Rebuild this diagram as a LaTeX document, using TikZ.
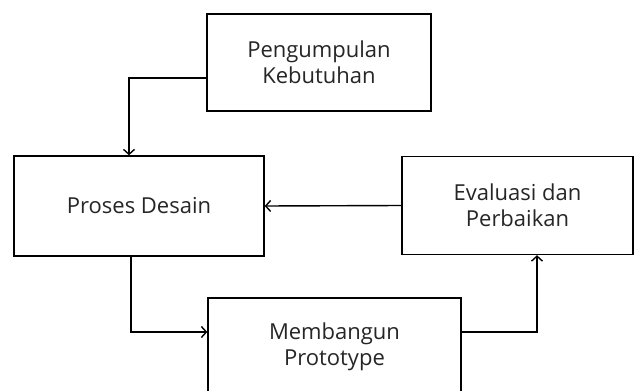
\documentclass[tikz,border=0pt]{standalone}
\usepackage{fontspec}
\setmainfont{Open Sans}
\usetikzlibrary{arrows.meta,calc}
\begin{document}
\begin{tikzpicture}[x=1pt,y=-1pt,
  box/.style={draw=black,line width=1.4pt,minimum width=#1,inner sep=0pt,align=center,font=\fontsize{22}{26}\selectfont,text=black!85},
  conn/.style={line width=1.4pt,-{Straight Barb[length=5pt,width=11pt,line width=1.4pt]}}]
\useasboundingbox (0,0) rectangle (641,391);
\clip (0,0) rectangle (641,391);
\fill[white] (0,0) rectangle (641,391);
\node[box=224pt,minimum height=97pt] (P) at (319,62.5) {Pengumpulan\\Kebutuhan};
\node[box=250pt,minimum height=100pt] (D) at (139,206) {Proses Desain};
\node[box=231pt,minimum height=98pt] (E) at (517.5,205.5) {Evaluasi dan\\Perbaikan};
\node[box=253pt,minimum height=97pt] (M) at (334.5,346.5) {Membangun\\Prototype};
\draw[conn] ($(P.west)+(0,15.5)$) -| ($(D.north)+(-10,0)$);
\draw[conn] (E.west) -- (D.east);
\draw[conn] ($(D.south)+(-8,0)$) |- ($(M.west)+(0,-14.5)$);
\draw[conn] ($(M.east)+(0,-14.5)$) -| ($(E.south)+(19.5,0)$);
\end{tikzpicture}
\end{document}
